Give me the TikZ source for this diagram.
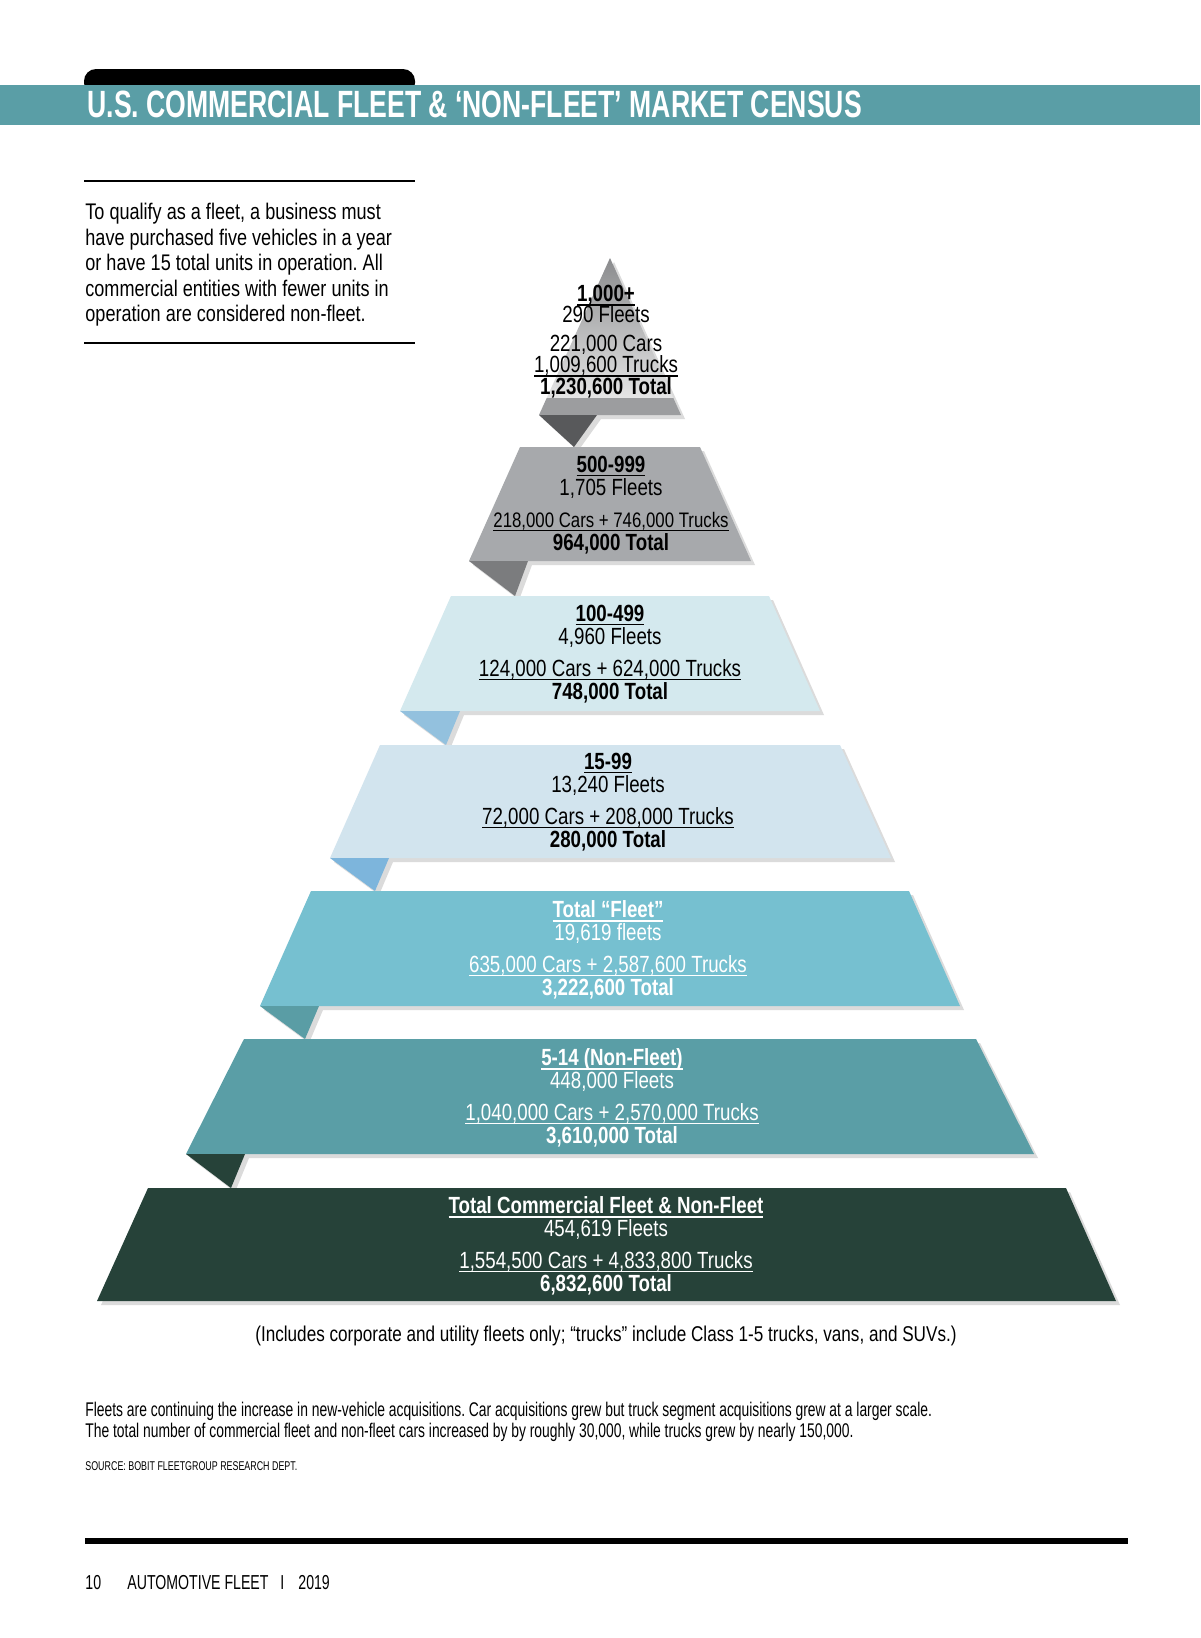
\documentclass[tikz,border=0pt]{standalone}
\usepackage{fontspec}
\setmainfont{Liberation Sans}[FakeStretch=0.8]
\newfontfamily\headfont{Liberation Sans}[FakeStretch=0.70]
\newfontfamily\narrowfont{Liberation Sans}[FakeStretch=0.7]
\usetikzlibrary{positioning}
\definecolor{censusteal}{HTML}{5A9EA6}
\definecolor{tonetop}{HTML}{8A8B8D}
\definecolor{toneband}{HTML}{9C9D9F}
\definecolor{tonefold}{HTML}{58595B}
\definecolor{ttwo}{HTML}{A7A9AC}
\definecolor{ttwofold}{HTML}{7B7C7E}
\definecolor{tthree}{HTML}{D4E9EE}
\definecolor{tthreefold}{HTML}{93C1DE}
\definecolor{tfour}{HTML}{D2E4EE}
\definecolor{tfourfold}{HTML}{7DB5DC}
\definecolor{tfive}{HTML}{76C0D0}
\definecolor{tfivefold}{HTML}{5A9DA5}
\definecolor{darkgreen}{HTML}{264239}
\frenchspacing
\newcommand\tightlines{\lineskiplimit-20pt\relax}
\newcommand\ulbox[1]{\setbox0\hbox{#1}\leavevmode\rlap{\rule[-1.9pt]{\wd0}{0.6pt}}\box0}

\begin{document}
\begin{tikzpicture}[x=0.5pt, y=-0.5pt,
      tshadow/.style={fill=black!14, shift={(4,4)}},
      lbl/.style={align=center, inner sep=0pt, font={\fontsize{11.7}{11.5}\selectfont\tightlines}},
      wlbl/.style={lbl, text=white},
      note/.style={inner sep=0pt, font=\narrowfont\fontsize{9.9}{10.5}\selectfont},
      foot/.style={anchor=base west, inner sep=0pt, font=\narrowfont\fontsize{10.1}{12}\selectfont}]
    \fill[white] (0,0) rectangle (1200,1638);
    \useasboundingbox (0,0) rectangle (1200,1638);

    % title bar
    \fill[black, rounded corners=6pt] (84,95) -- (84,69) -- (415,69) -- (415,95) -- cycle;
    \fill[censusteal] (0,85) rectangle (1200,125);
    \node[anchor=base west, inner sep=0pt, text=white, font=\headfont\bfseries\fontsize{19}{21}\selectfont]
      (title) at (87,117) {U.S. COMMERCIAL FLEET \& ‘NON-FLEET’ MARKET CENSUS};

    % side note
    \draw[line width=1pt] (84,181) -- (415,181);
    \draw[line width=1pt] (84,343) -- (415,343);
    \node[anchor=north west, align=left, inner sep=0pt, font=\fontsize{11.3}{12.75}\selectfont] (qualify) at (85,203)
      {To qualify as a fleet, a business must\\have purchased five vehicles in a year\\or have 15 total units in operation. All\\commercial entities with fewer units in\\operation are considered non-fleet.};

    % 1,000+
    \fill[tshadow] (610,258) -- (681,415) -- (597,415) -- (574,447) -- (539,415) -- cycle;
    \shade[top color=tonetop, middle color=gray!12, bottom color=gray!20] (610,258) -- (673.3,398) -- (546.7,398) -- cycle;
    \fill[toneband] (546.7,398) -- (673.3,398) -- (681,415) -- (539,415) -- cycle;
    \fill[tonefold] (539,415) -- (597,415) -- (574,447) -- cycle;
    \node[lbl, font={\fontsize{11.7}{10.5}\selectfont\tightlines}] (top) at (606,342) {\ulbox{\textbf{1,000+}}\\290 Fleets\\[4pt]221,000 Cars\\\ulbox{1,009,600 Trucks}\\[0.5pt]\textbf{1,230,600 Total}};

    % 500-999
    \fill[tshadow] (520,447) -- (700,447) -- (751,561) -- (528,561) -- (515,596) -- (469,561) -- cycle;
    \fill[ttwo] (520,447) -- (700,447) -- (751,561) -- (469,561) -- cycle;
    \fill[ttwofold] (469,561) -- (528,561) -- (515,596) -- cycle;
    \node[lbl] (five) at (611,505) {\ulbox{\textbf{500-999}}\\1,705 Fleets\\[4.3pt]{\fontsize{10.5}{11.5}\selectfont\ulbox{218,000 Cars + 746,000 Trucks}}\\\textbf{964,000 Total}};

    % 100-499
    \fill[tshadow] (451,596) -- (769,596) -- (820,711) -- (460,711) -- (446,745) -- (400,711) -- cycle;
    \fill[tthree] (451,596) -- (769,596) -- (820,711) -- (400,711) -- cycle;
    \fill[tthreefold] (400,711) -- (460,711) -- (446,745) -- cycle;
    \node[lbl] (hundred) at (610,654) {\ulbox{\textbf{100-499}}\\4,960 Fleets\\[4.3pt]\ulbox{124,000 Cars + 624,000 Trucks}\\\textbf{748,000 Total}};

    % 15-99
    \fill[tshadow] (380,745) -- (840,745) -- (891,858) -- (389,858) -- (375,891) -- (330,858) -- cycle;
    \fill[tfour] (380,745) -- (840,745) -- (891,858) -- (330,858) -- cycle;
    \fill[tfourfold] (330,858) -- (389,858) -- (375,891) -- cycle;
    \node[lbl] (fifteen) at (608,802) {\ulbox{\textbf{15-99}}\\13,240 Fleets\\[4.3pt]\ulbox{72,000 Cars + 208,000 Trucks}\\\textbf{280,000 Total}};

    % total fleet
    \fill[tshadow] (311,891) -- (909,891) -- (960,1006) -- (319,1006) -- (305,1039) -- (260,1006) -- cycle;
    \fill[tfive] (311,891) -- (909,891) -- (960,1006) -- (260,1006) -- cycle;
    \fill[tfivefold] (260,1006) -- (319,1006) -- (305,1039) -- cycle;
    \node[wlbl] (fleet) at (608,950) {\ulbox{\textbf{Total “Fleet”}}\\19,619 fleets\\[4.3pt]\ulbox{635,000 Cars + 2,587,600 Trucks}\\\textbf{3,222,600 Total}};

    % non-fleet
    \fill[tshadow] (244,1039) -- (976,1039) -- (1034,1154) -- (245,1154) -- (231,1188) -- (186,1154) -- cycle;
    \fill[censusteal] (244,1039) -- (976,1039) -- (1034,1154) -- (186,1154) -- cycle;
    \fill[darkgreen] (186,1154) -- (245,1154) -- (231,1188) -- cycle;
    \node[wlbl] (nonfleet) at (612,1098) {\ulbox{\textbf{5-14 (Non-Fleet)}}\\448,000 Fleets\\[4.3pt]\ulbox{1,040,000 Cars + 2,570,000 Trucks}\\\textbf{3,610,000 Total}};

    % all
    \fill[tshadow] (148,1188) -- (1066,1188) -- (1116,1301) -- (97,1301) -- cycle;
    \fill[darkgreen] (148,1188) -- (1066,1188) -- (1116,1301) -- (97,1301) -- cycle;
    \node[wlbl] (all) at (606,1246) {\ulbox{\textbf{Total Commercial Fleet \& Non-Fleet}}\\454,619 Fleets\\[4.3pt]\ulbox{1,554,500 Cars + 4,833,800 Trucks}\\\textbf{6,832,600 Total}};

    \node[anchor=base, inner sep=0pt, font=\fontsize{10.7}{12}\selectfont] (incl) at (606,1341)
      {(Includes corporate and utility fleets only; “trucks” include Class 1-5 trucks, vans, and SUVs.)};

    % footer
    \node[note, anchor=north west, align=left] (growth) at (85,1402)
      {Fleets are continuing the increase in new-vehicle acquisitions. Car acquisitions grew but truck segment acquisitions grew at a larger scale.\\The total number of commercial fleet and non-fleet cars increased by by roughly 30,000, while trucks grew by nearly 150,000.};
    \node[anchor=base west, inner sep=0pt, font=\narrowfont\fontsize{6.35}{8}\selectfont] (source) at (85,1470) {SOURCE: BOBIT FLEETGROUP RESEARCH DEPT.};
    \draw[line width=3pt] (85,1541) -- (1128,1541);
    \node[foot] (page) at (85,1589) {10};
    \node[foot] (mag) at (127,1589) {AUTOMOTIVE FLEET};
    \node[foot] (bar) at (280,1589) {I};
    \node[foot] (year) at (298,1589) {2019};
\end{tikzpicture}
\end{document}
